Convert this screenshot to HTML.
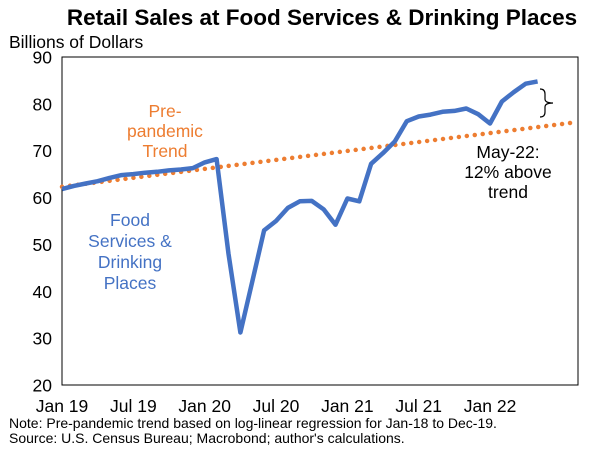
<!DOCTYPE html>
<html><head><meta charset="utf-8"><style>
body{margin:0;background:#fff;font-family:"Liberation Sans",Arial,sans-serif}
svg text{font-family:"Liberation Sans",Arial,sans-serif}
</style></head><body>
<svg id="c" width="600" height="451" viewBox="0 0 600 451">
<text x="322" y="25" text-anchor="middle" font-size="22.5" font-weight="bold" fill="#000">Retail Sales at Food Services &amp; Drinking Places</text>
<text x="9" y="48" font-size="17.5" fill="#000">Billions of Dollars</text>
<rect x="62" y="57" width="516" height="328" fill="none" stroke="#000" stroke-width="1"/>
<g id="yt"></g><g id="xt"></g>
<path id="trend" fill="none" stroke="#ED7D31" stroke-width="4.5" stroke-linecap="round" stroke-dasharray="0 8"/>
<path id="sales" fill="none" stroke="#4472C4" stroke-width="4.5" stroke-linejoin="round"/>
<text font-size="17.5" fill="#ED7D31" text-anchor="middle"><tspan x="165" y="117">Pre-</tspan><tspan x="165" y="137">pandemic</tspan><tspan x="165" y="157">Trend</tspan></text>
<text font-size="17.5" fill="#4472C4" text-anchor="middle"><tspan x="130" y="226">Food</tspan><tspan x="130" y="247">Services &amp;</tspan><tspan x="130" y="268">Drinking</tspan><tspan x="130" y="289">Places</tspan></text>
<path d="M540 89 Q545 89 545 94 L545 99 Q545 103 553 103 Q545 103 545 107 L545 112 Q545 117 540 117" fill="none" stroke="#000" stroke-width="1.2"/>
<text font-size="17.5" fill="#000" text-anchor="middle"><tspan x="508" y="158">May-22:</tspan><tspan x="508" y="178">12% above</tspan><tspan x="508" y="198">trend</tspan></text>
<text x="9" y="428" font-size="14" fill="#000">Note: Pre-pandemic trend based on log-linear regression for Jan-18 to Dec-19.</text>
<text x="9" y="443" font-size="14" fill="#000">Source: U.S. Census Bureau; Macrobond; author's calculations.</text>
</svg>
<script>
const sales=[61.8,62.5,63,63.5,64.2,64.8,65,65.3,65.5,65.8,66,66.3,67.5,68.2,48,31.2,42,53,55,57.8,59.2,59.3,57.5,54.2,59.8,59.2,67.2,69.5,72,76.3,77.3,77.7,78.3,78.5,79,77.8,75.8,80.5,82.5,84.3,84.8];
const trendMonths=[0,43];
const trendValues=[62.3,76];
const yTicks=[20,30,40,50,60,70,80,90];
const xLabels=["Jan 19","Jul 19","Jan 20","Jul 20","Jan 21","Jul 21","Jan 22"];
const xLabelMonths=[0,6,12,18,24,30,36];
const X=m=>62+m*11.89;
const Y=v=>385-(v-20)*328/70;
const ns="http://www.w3.org/2000/svg";
const yt=document.getElementById('yt'),xt=document.getElementById('xt');
yTicks.forEach(v=>{const t=document.createElementNS(ns,'text');
t.setAttribute('x',52);t.setAttribute('y',Y(v)+6.5);t.setAttribute('text-anchor','end');t.setAttribute('font-size','17.5');
t.textContent=v;


yt.appendChild(t);});
xLabels.forEach((l,i)=>{const t=document.createElementNS(ns,'text');
t.setAttribute('x',X(xLabelMonths[i]));t.setAttribute('y',412);t.setAttribute('text-anchor','middle');t.setAttribute('font-size','17.5');
t.textContent=l;


xt.appendChild(t);});
document.getElementById('sales').setAttribute('d',sales.map((v,i)=>(i?'L':'M')+X(i).toFixed(1)+' '+Y(v).toFixed(1)).join(' '));
document.getElementById('trend').setAttribute('d',trendValues.map((v,i)=>(i?'L':'M')+X(trendMonths[i]).toFixed(1)+' '+Y(v).toFixed(1)).join(' '));
</script>
</body></html>
